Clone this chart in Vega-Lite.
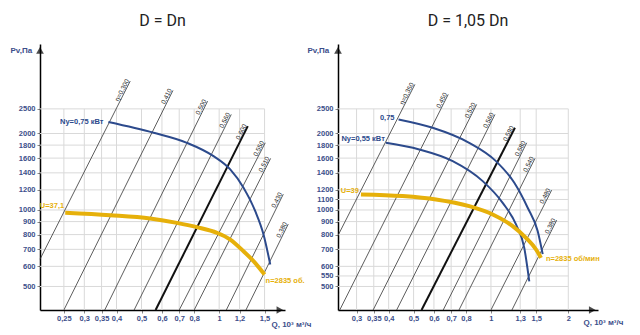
{
  "$schema": "https://vega.github.io/schema/vega-lite/v6.json",
  "padding": {"left": 10, "top": 13, "right": 5, "bottom": 5},
  "spacing": 53,
  "bounds": "flush",
  "config": {"view": {"stroke": null}, "font": "Liberation Sans"},
  "datasets": {
    "gridL": [
      {"x": 0.25, "x2": 0.25, "y": 404, "y2": 2500},
      {"x": 0.3, "x2": 0.3, "y": 404, "y2": 2500},
      {"x": 0.35, "x2": 0.35, "y": 404, "y2": 2500},
      {"x": 0.4, "x2": 0.4, "y": 404, "y2": 2500},
      {"x": 0.5, "x2": 0.5, "y": 404, "y2": 2500},
      {"x": 0.6, "x2": 0.6, "y": 404, "y2": 2500},
      {"x": 0.7, "x2": 0.7, "y": 404, "y2": 2500},
      {"x": 0.8, "x2": 0.8, "y": 404, "y2": 2500},
      {"x": 1, "x2": 1, "y": 404, "y2": 2500},
      {"x": 1.2, "x2": 1.2, "y": 404, "y2": 2500},
      {"x": 1.5, "x2": 1.5, "y": 404, "y2": 2500},
      {"x": 0.202, "x2": 1.5, "y": 500, "y2": 500},
      {"x": 0.202, "x2": 1.5, "y": 600, "y2": 600},
      {"x": 0.202, "x2": 1.5, "y": 700, "y2": 700},
      {"x": 0.202, "x2": 1.5, "y": 800, "y2": 800},
      {"x": 0.202, "x2": 1.5, "y": 900, "y2": 900},
      {"x": 0.202, "x2": 1.5, "y": 1000, "y2": 1000},
      {"x": 0.202, "x2": 1.5, "y": 1200, "y2": 1200},
      {"x": 0.202, "x2": 1.5, "y": 1400, "y2": 1400},
      {"x": 0.202, "x2": 1.5, "y": 1600, "y2": 1600},
      {"x": 0.202, "x2": 1.5, "y": 1800, "y2": 1800},
      {"x": 0.202, "x2": 1.5, "y": 2000, "y2": 2000},
      {"x": 0.202, "x2": 1.5, "y": 2500, "y2": 2500}
    ],
    "gridR": [
      {"x": 0.3, "x2": 0.3, "y": 404, "y2": 2500},
      {"x": 0.35, "x2": 0.35, "y": 404, "y2": 2500},
      {"x": 0.4, "x2": 0.4, "y": 404, "y2": 2500},
      {"x": 0.5, "x2": 0.5, "y": 404, "y2": 2500},
      {"x": 0.6, "x2": 0.6, "y": 404, "y2": 2500},
      {"x": 0.7, "x2": 0.7, "y": 404, "y2": 2500},
      {"x": 0.8, "x2": 0.8, "y": 404, "y2": 2500},
      {"x": 1, "x2": 1, "y": 404, "y2": 2500},
      {"x": 1.3, "x2": 1.3, "y": 404, "y2": 2500},
      {"x": 1.5, "x2": 1.5, "y": 404, "y2": 2500},
      {"x": 2, "x2": 2, "y": 404, "y2": 2500},
      {"x": 0.254, "x2": 2, "y": 500, "y2": 500},
      {"x": 0.254, "x2": 2, "y": 550, "y2": 550},
      {"x": 0.254, "x2": 2, "y": 600, "y2": 600},
      {"x": 0.254, "x2": 2, "y": 700, "y2": 700},
      {"x": 0.254, "x2": 2, "y": 800, "y2": 800},
      {"x": 0.254, "x2": 2, "y": 900, "y2": 900},
      {"x": 0.254, "x2": 2, "y": 1000, "y2": 1000},
      {"x": 0.254, "x2": 2, "y": 1100, "y2": 1100},
      {"x": 0.254, "x2": 2, "y": 1200, "y2": 1200},
      {"x": 0.254, "x2": 2, "y": 1400, "y2": 1400},
      {"x": 0.254, "x2": 2, "y": 1600, "y2": 1600},
      {"x": 0.254, "x2": 2, "y": 1800, "y2": 1800},
      {"x": 0.254, "x2": 2, "y": 2000, "y2": 2000},
      {"x": 0.254, "x2": 2, "y": 2500, "y2": 2500}
    ],
    "diagL": [
      {"id": "L1", "peak": 0, "x": 0.202, "y": 640}, {"id": "L1", "peak": 0, "x": 0.452, "y": 3216},
      {"id": "L2", "peak": 0, "x": 0.25, "y": 404}, {"id": "L2", "peak": 0, "x": 0.662, "y": 2955},
      {"id": "L3", "peak": 0, "x": 0.36, "y": 404}, {"id": "L3", "peak": 0, "x": 0.902, "y": 2681},
      {"id": "L4", "peak": 0, "x": 0.468, "y": 404}, {"id": "L4", "peak": 0, "x": 1.114, "y": 2377},
      {"id": "L5", "peak": 1, "x": 0.567, "y": 404}, {"id": "L5", "peak": 1, "x": 1.291, "y": 2139},
      {"id": "L6", "peak": 0, "x": 0.7, "y": 404}, {"id": "L6", "peak": 0, "x": 1.509, "y": 1838},
      {"id": "L7", "peak": 0, "x": 0.8, "y": 404}, {"id": "L7", "peak": 0, "x": 1.583, "y": 1596},
      {"id": "L8", "peak": 0, "x": 1.066, "y": 404}, {"id": "L8", "peak": 0, "x": 1.773, "y": 1154},
      {"id": "L9", "peak": 0, "x": 1.27, "y": 404}, {"id": "L9", "peak": 0, "x": 1.853, "y": 880}
    ],
    "labL": [
      {"label": "η=0,300", "x": 0.452, "y": 3216},
      {"label": "0,410", "x": 0.662, "y": 2955},
      {"label": "0,500", "x": 0.902, "y": 2681},
      {"label": "0,560", "x": 1.114, "y": 2377},
      {"label": "0,600", "x": 1.291, "y": 2139},
      {"label": "0,550", "x": 1.509, "y": 1838},
      {"label": "0,510", "x": 1.583, "y": 1596},
      {"label": "0,430", "x": 1.773, "y": 1154},
      {"label": "0,380", "x": 1.853, "y": 880}
    ],
    "diagR": [
      {"id": "R1", "peak": 0, "x": 0.2544, "y": 796}, {"id": "R1", "peak": 0, "x": 0.506, "y": 3121},
      {"id": "R2", "peak": 0, "x": 0.258, "y": 404}, {"id": "R2", "peak": 0, "x": 0.682, "y": 2850},
      {"id": "R3", "peak": 0, "x": 0.348, "y": 404}, {"id": "R3", "peak": 0, "x": 0.88, "y": 2603},
      {"id": "R4", "peak": 0, "x": 0.4296, "y": 404}, {"id": "R4", "peak": 0, "x": 1.037, "y": 2377},
      {"id": "R5", "peak": 1, "x": 0.537, "y": 404}, {"id": "R5", "peak": 1, "x": 1.24, "y": 2106},
      {"id": "R6", "peak": 0, "x": 0.652, "y": 404}, {"id": "R6", "peak": 0, "x": 1.378, "y": 1838},
      {"id": "R7", "peak": 0, "x": 0.751, "y": 404}, {"id": "R7", "peak": 0, "x": 1.484, "y": 1596},
      {"id": "R8", "peak": 0, "x": 1.0, "y": 404}, {"id": "R8", "peak": 0, "x": 1.723, "y": 1197},
      {"id": "R9", "peak": 0, "x": 1.207, "y": 404}, {"id": "R9", "peak": 0, "x": 1.803, "y": 912}
    ],
    "labR": [
      {"label": "η=0,350", "x": 0.506, "y": 3121},
      {"label": "0,450", "x": 0.682, "y": 2850},
      {"label": "0,520", "x": 0.88, "y": 2603},
      {"label": "0,560", "x": 1.037, "y": 2377},
      {"label": "0,590", "x": 1.24, "y": 2106},
      {"label": "0,580", "x": 1.378, "y": 1838},
      {"label": "0,540", "x": 1.484, "y": 1596},
      {"label": "0,480", "x": 1.723, "y": 1197},
      {"label": "0,380", "x": 1.803, "y": 912}
    ],
    "blueL": [
      {"curve": "N075", "x": 0.372, "y": 2218},
      {"curve": "N075", "x": 0.557, "y": 2013},
      {"curve": "N075", "x": 0.75, "y": 1838},
      {"curve": "N075", "x": 0.951, "y": 1629},
      {"curve": "N075", "x": 1.104, "y": 1444},
      {"curve": "N075", "x": 1.243, "y": 1223},
      {"curve": "N075", "x": 1.38, "y": 990},
      {"curve": "N075", "x": 1.486, "y": 801},
      {"curve": "N075", "x": 1.578, "y": 610}
    ],
    "yellowL": [
      {"x": 0.253, "y": 976},
      {"x": 0.378, "y": 954},
      {"x": 0.54, "y": 926},
      {"x": 0.686, "y": 890},
      {"x": 0.82, "y": 856},
      {"x": 0.981, "y": 813},
      {"x": 1.104, "y": 765},
      {"x": 1.243, "y": 688},
      {"x": 1.359, "y": 629},
      {"x": 1.5, "y": 557}
    ],
    "blueR": [
      {"curve": "N075", "x": 0.437, "y": 2272},
      {"curve": "N075", "x": 0.593, "y": 2106},
      {"curve": "N075", "x": 0.823, "y": 1838},
      {"curve": "N075", "x": 1.046, "y": 1557},
      {"curve": "N075", "x": 1.233, "y": 1279},
      {"curve": "N075", "x": 1.39, "y": 1020},
      {"curve": "N075", "x": 1.52, "y": 826},
      {"curve": "N075", "x": 1.59, "y": 670},
      {"curve": "N055", "x": 0.39, "y": 1838},
      {"curve": "N055", "x": 0.526, "y": 1731},
      {"curve": "N055", "x": 0.71, "y": 1557},
      {"curve": "N055", "x": 0.929, "y": 1299},
      {"curve": "N055", "x": 1.111, "y": 1067},
      {"curve": "N055", "x": 1.252, "y": 877},
      {"curve": "N055", "x": 1.348, "y": 709},
      {"curve": "N055", "x": 1.41, "y": 524}
    ],
    "yellowR": [
      {"x": 0.312, "y": 1151},
      {"x": 0.453, "y": 1134},
      {"x": 0.611, "y": 1100},
      {"x": 0.823, "y": 1035},
      {"x": 1.016, "y": 960},
      {"x": 1.215, "y": 864},
      {"x": 1.369, "y": 777},
      {"x": 1.498, "y": 699},
      {"x": 1.566, "y": 648}
    ]
  },
  "hconcat": [
    {
      "width": 245,
      "height": 266,
      "title": {"text": "D = Dn", "font": "Roboto", "fontSize": 16, "fontWeight": "normal", "color": "#222222", "frame": "group", "anchor": "middle", "baseline": "alphabetic", "offset": 2},
      "encoding": {
        "x": {"field": "x", "type": "quantitative",
          "scale": {"type": "log", "domain": [0.202, 1.8], "nice": false},
          "axis": {"values": [0.25, 0.3, 0.35, 0.4, 0.5, 0.6, 0.7, 0.8, 1, 1.2, 1.5], "labelExpr": "replace(toString(datum.value), '.', ',')", "grid": false, "domainColor": "#000000", "domainWidth": 1.5, "tickColor": "#888888", "tickSize": 3, "labelColor": "#3c4e8a", "labelFontSize": 7.5, "labelFontWeight": "bold", "labelPadding": 1, "labelOverlap": false, "labelFlush": false, "title": "Q, 10³ м³/ч", "titleColor": "#3c4e8a", "titleFontSize": 8, "titleFontWeight": "bold", "titleX": 231, "titleY": 14, "titleAlign": "left", "titleBaseline": "middle"}},
        "y": {"field": "y", "type": "quantitative",
          "scale": {"type": "log", "domain": [404, 4500], "nice": false},
          "axis": {"values": [500, 600, 700, 800, 900, 1000, 1200, 1400, 1600, 1800, 2000, 2500], "format": "d", "grid": false, "domainColor": "#000000", "domainWidth": 1.5, "tickColor": "#888888", "tickSize": 3, "labelColor": "#3c4e8a", "labelFontSize": 7.5, "labelFontWeight": "bold", "labelPadding": 2, "labelOverlap": false, "labelFlush": false, "title": "Pv,Па", "titleColor": "#3c4e8a", "titleFontSize": 8, "titleFontWeight": "bold", "titleAngle": 0, "titleX": -30, "titleY": 6, "titleAlign": "left", "titleBaseline": "middle"}}
      },
      "layer": [
        {"data": {"values": [{"x": 0.202, "y": 4250}]}, "mark": {"type": "point", "shape": "triangle-up", "filled": true, "color": "#000000", "size": 60}, "encoding": {}},
        {"data": {"values": [{"x": 1.72, "y": 404}]}, "mark": {"type": "point", "shape": "triangle-right", "filled": true, "color": "#000000", "size": 60}, "encoding": {}},
        {"data": {"name": "gridL"}, "mark": {"type": "rule", "color": "#d9d9d9", "strokeWidth": 1}, "encoding": {"x2": {"field": "x2"}, "y2": {"field": "y2"}}},
        {"data": {"name": "diagL"}, "transform": [{"filter": "datum.peak == 0"}], "mark": {"type": "line", "color": "#333333", "strokeWidth": 0.8}, "encoding": {"detail": {"field": "id"}}},
        {"data": {"name": "diagL"}, "transform": [{"filter": "datum.peak == 1"}], "mark": {"type": "line", "color": "#111111", "strokeWidth": 2}, "encoding": {"detail": {"field": "id"}}},
        {"data": {"name": "blueL"}, "mark": {"type": "line", "color": "#2c4a8c", "strokeWidth": 2, "interpolate": "monotone"}, "encoding": {"detail": {"field": "curve"}}},
        {"data": {"name": "yellowL"}, "mark": {"type": "line", "color": "#e6b00a", "strokeWidth": 4, "interpolate": "monotone"}, "encoding": {}},
        {"data": {"name": "labL"}, "mark": {"type": "text", "angle": -63, "align": "right", "baseline": "bottom", "fontSize": 6.5, "color": "#222222"}, "encoding": {"text": {"field": "label"}}},
        {"data": {"values": [{"x": 0.372, "y": 2218, "label": "Ny=0,75 кВт"}]}, "mark": {"type": "text", "align": "right", "baseline": "middle", "dx": -5, "fontSize": 7.5, "fontWeight": "bold", "color": "#2c4a8c"}, "encoding": {"text": {"field": "label"}}},
        {"data": {"values": [{"x": 0.253, "y": 976, "label": "U=37,1"}]}, "mark": {"type": "text", "align": "right", "baseline": "middle", "dx": -1, "dy": -7, "fontSize": 7.5, "fontWeight": "bold", "color": "#e6b00a"}, "encoding": {"text": {"field": "label"}}},
        {"data": {"values": [{"x": 1.5, "y": 557, "label": "n=2835 об."}]}, "mark": {"type": "text", "align": "left", "baseline": "middle", "dx": 1, "dy": 6, "fontSize": 7.5, "fontWeight": "bold", "color": "#e6b00a"}, "encoding": {"text": {"field": "label"}}}
      ]
    },
    {
      "width": 260,
      "height": 266,
      "title": {"text": "D = 1,05 Dn", "font": "Roboto", "fontSize": 16, "fontWeight": "normal", "color": "#222222", "frame": "group", "anchor": "middle", "baseline": "alphabetic", "offset": 2},
      "encoding": {
        "x": {"field": "x", "type": "quantitative",
          "scale": {"type": "log", "domain": [0.254, 2.61], "nice": false},
          "axis": {"values": [0.3, 0.35, 0.4, 0.5, 0.6, 0.7, 0.8, 1, 1.3, 1.5, 2], "labelExpr": "replace(toString(datum.value), '.', ',')", "grid": false, "domainColor": "#000000", "domainWidth": 1.5, "tickColor": "#888888", "tickSize": 3, "labelColor": "#3c4e8a", "labelFontSize": 7.5, "labelFontWeight": "bold", "labelPadding": 1, "labelOverlap": false, "labelFlush": false, "title": "Q, 10³ м³/ч", "titleColor": "#3c4e8a", "titleFontSize": 8, "titleFontWeight": "bold", "titleX": 245, "titleY": 12, "titleAlign": "left", "titleBaseline": "middle"}},
        "y": {"field": "y", "type": "quantitative",
          "scale": {"type": "log", "domain": [404, 4500], "nice": false},
          "axis": {"values": [500, 550, 600, 700, 800, 900, 1000, 1100, 1200, 1400, 1600, 1800, 2000, 2500], "format": "d", "grid": false, "domainColor": "#000000", "domainWidth": 1.5, "tickColor": "#888888", "tickSize": 3, "labelColor": "#3c4e8a", "labelFontSize": 7.5, "labelFontWeight": "bold", "labelPadding": 2, "labelOverlap": false, "labelFlush": false, "title": "Pv,Па", "titleColor": "#3c4e8a", "titleFontSize": 8, "titleFontWeight": "bold", "titleAngle": 0, "titleX": -31, "titleY": 6, "titleAlign": "left", "titleBaseline": "middle"}}
      },
      "layer": [
        {"data": {"values": [{"x": 0.254, "y": 4250}]}, "mark": {"type": "point", "shape": "triangle-up", "filled": true, "color": "#000000", "size": 60}, "encoding": {}},
        {"data": {"values": [{"x": 2.48, "y": 404}]}, "mark": {"type": "point", "shape": "triangle-right", "filled": true, "color": "#000000", "size": 60}, "encoding": {}},
        {"data": {"name": "gridR"}, "mark": {"type": "rule", "color": "#d9d9d9", "strokeWidth": 1}, "encoding": {"x2": {"field": "x2"}, "y2": {"field": "y2"}}},
        {"data": {"name": "diagR"}, "transform": [{"filter": "datum.peak == 0"}], "mark": {"type": "line", "color": "#333333", "strokeWidth": 0.8}, "encoding": {"detail": {"field": "id"}}},
        {"data": {"name": "diagR"}, "transform": [{"filter": "datum.peak == 1"}], "mark": {"type": "line", "color": "#111111", "strokeWidth": 2}, "encoding": {"detail": {"field": "id"}}},
        {"data": {"name": "blueR"}, "mark": {"type": "line", "color": "#2c4a8c", "strokeWidth": 2, "interpolate": "monotone"}, "encoding": {"detail": {"field": "curve"}}},
        {"data": {"name": "yellowR"}, "mark": {"type": "line", "color": "#e6b00a", "strokeWidth": 4, "interpolate": "monotone"}, "encoding": {}},
        {"data": {"name": "labR"}, "mark": {"type": "text", "angle": -63, "align": "right", "baseline": "bottom", "fontSize": 6.5, "color": "#222222"}, "encoding": {"text": {"field": "label"}}},
        {"data": {"values": [{"x": 0.437, "y": 2272, "label": "0,75"}]}, "mark": {"type": "text", "align": "right", "baseline": "middle", "dx": -4, "dy": -1, "fontSize": 7.5, "fontWeight": "bold", "color": "#2c4a8c"}, "encoding": {"text": {"field": "label"}}},
        {"data": {"values": [{"x": 0.39, "y": 1838, "label": "Ny=0,55 кВт"}]}, "mark": {"type": "text", "align": "right", "baseline": "middle", "dx": -1, "dy": -4, "fontSize": 7.5, "fontWeight": "bold", "color": "#2c4a8c"}, "encoding": {"text": {"field": "label"}}},
        {"data": {"values": [{"x": 0.312, "y": 1151, "label": "U=39"}]}, "mark": {"type": "text", "align": "right", "baseline": "middle", "dx": -2, "dy": -3, "fontSize": 7.5, "fontWeight": "bold", "color": "#e6b00a"}, "encoding": {"text": {"field": "label"}}},
        {"data": {"values": [{"x": 1.566, "y": 648, "label": "n=2835 об/мин"}]}, "mark": {"type": "text", "align": "left", "baseline": "middle", "dx": 5, "dy": 1, "fontSize": 7.5, "fontWeight": "bold", "color": "#e6b00a"}, "encoding": {"text": {"field": "label"}}}
      ]
    }
  ]
}
